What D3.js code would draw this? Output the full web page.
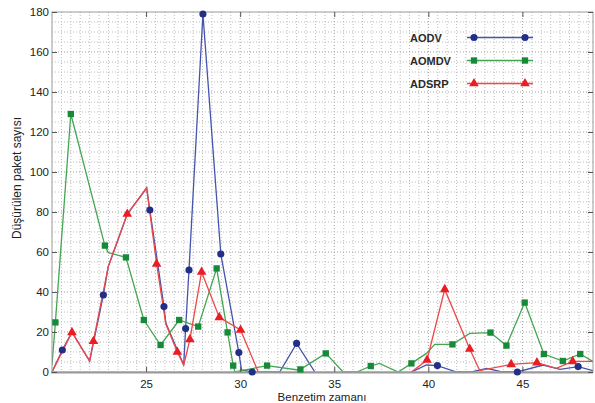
<!DOCTYPE html>
<html>
<head>
<meta charset="utf-8">
<script src="https://cdn.jsdelivr.net/npm/d3@7/dist/d3.min.js"></script>
<style>
  body { margin: 0; background: #fff; }
  text { font-family: "Liberation Sans", Arial, sans-serif; }
</style>
</head>
<body>
<script>
// [time, dropped packets, marker shown]; null value = gap in the line
var aodvData = [[20,0,0],[20.55,11,1],[21.06,20,0],[22.0,5.5,0],[22.73,38.5,1],[22.99,52.7,0],
    [24.0,79,0],[25.03,92,0],[25.2,81,1],[25.95,32.7,1],[26.05,24.5,0],[27.0,3.5,0],
    [27.1,21.7,1],[27.28,51,1],[28.02,179,1],[28.97,59,1],[29.93,9.7,1],[30.07,1,0],
    [30.64,0,1],[32.1,0,0],[33.0,14.3,1],[33.97,0,0],[36,null,0],[39.1,0,0],[39.9,3.5,0],
    [40.48,3.2,1],[41.5,0,0],[42.3,0,0],[43.1,1.8,0],[43.8,0.3,0],[44.73,0,1],[46.1,3.5,0],
    [47.0,1.3,0],[47.96,2.7,1],[48.75,0.7,0]];
var aomdvData = [[20,3.5,0],[20.18,24.8,1],[21.0,129,1],[22.81,63.2,1],[22.99,59.7,0],
    [23.93,57.3,1],[24.88,26,1],[25.77,13.5,1],[26.76,26,1],[27.77,22.7,1],[28.75,51.8,1],
    [29.33,19.8,1],[29.63,3.2,1],[29.72,0,0],[31.43,3.2,1],[33.08,1,0],[33.2,1.3,1],
    [34.55,9.3,1],[35.47,0,0],[36.2,0,0],[36.94,3,1],[37.4,4.3,0],[38.4,0,0],[39.1,4.3,1],
    [39.9,9.3,0],[40.34,13.8,0],[41.28,13.8,1],[42.2,19.3,0],[43.3,19.7,1],[44.15,13.2,1],
    [45.12,34.7,1],[46.14,9,1],[47.15,5.5,1],[48.07,9,1],[48.75,5.2,0]];
var adsrpData = [[20,0,0],[21.06,19.8,1],[22.0,5.5,0],[22.2,15.4,1],[22.99,52.7,0],[24.0,79,1],
    [25.03,92,0],[25.56,54,1],[26.05,24,0],[26.66,10,1],[27.0,3.5,0],[27.33,16.3,1],
    [27.95,50,1],[28.89,27.3,1],[30.02,21,1],[30.96,0,0],[35,null,0],[39.1,0,0],[39.93,6,1],
    [40.87,41.3,1],[42.2,11.5,1],[42.73,0.7,0],[44.4,3.8,1],[45.77,4.7,1],[46.8,1.8,0],
    [47.67,5.3,1],[48.75,5.3,0]];

var seriesNames = ["AODV", "AOMDV", "ADSRP"];
var xTicks = [25, 30, 35, 40, 45];
var yTicks = [0, 20, 40, 60, 80, 100, 120, 140, 160, 180];

drawChart();

function drawChart(){
    var w = 595, h = 403;
    var pl = 52, pr = 593, pt = 12, pb = 372;

    var svg = d3.select("body").append("svg")
        .attr("width", w)
        .attr("height", h);

    var x = d3.scaleLinear().domain([20, 48.75]).range([pl, pr]);
    var y = d3.scaleLinear().domain([0, 180]).range([pb, pt]);

    //dotted grid
    svg.append("g").selectAll("line")
        .data(d3.range(20.5, 48.75, 0.5))
        .enter().append("line")
        .attr("x1", function(d){ return x(d); })
        .attr("x2", function(d){ return x(d); })
        .attr("y1", pt).attr("y2", pb)
        .attr("stroke", function(d){ return d % 5 === 0 ? "#a0a0a0" : "#bdbdbd"; })
        .attr("stroke-dasharray", "1,2");
    svg.append("g").selectAll("line")
        .data(d3.range(5, 180, 5))
        .enter().append("line")
        .attr("x1", pl).attr("x2", pr)
        .attr("y1", function(d){ return y(d); })
        .attr("y2", function(d){ return y(d); })
        .attr("stroke", function(d){ return d % 20 === 0 ? "#a0a0a0" : "#bdbdbd"; })
        .attr("stroke-dasharray", "1,2");

    var series = [
        {name: seriesNames[0], data: aodvData, line: "#4453ad", mark: "#222f86", sym: d3.symbolCircle, size: 40},
        {name: seriesNames[1], data: aomdvData, line: "#43a652", mark: "#168a38", sym: d3.symbolSquare, size: 40},
        {name: seriesNames[2], data: adsrpData, line: "#ef4747", mark: "#ea1c24", sym: d3.symbolTriangle, size: 40}
    ];

    svg.append("clipPath").attr("id", "plot")
        .append("rect").attr("x", pl).attr("y", pt - 6)
        .attr("width", pr - pl).attr("height", pb - pt + 6);

    var line = d3.line()
        .defined(function(d){ return d[1] !== null; })
        .x(function(d){ return x(d[0]); })
        .y(function(d){ return y(d[1]); });

    var lines = svg.append("g").attr("clip-path", "url(#plot)");
    series.forEach(function(s){
        lines.append("path")
            .datum(s.data)
            .attr("d", line)
            .attr("fill", "none")
            .attr("stroke", s.line)
            .attr("stroke-width", 1.3);
    });

    //axes frame
    var axisColor = "#9a9a9a";
    svg.append("rect")
        .attr("x", pl).attr("y", pt)
        .attr("width", pr - pl).attr("height", pb - pt)
        .attr("fill", "none").attr("stroke", axisColor).attr("stroke-width", 1);
    svg.append("line")
        .attr("x1", pl - 1).attr("x2", pr)
        .attr("y1", pb + 0.5).attr("y2", pb + 0.5)
        .attr("stroke", axisColor).attr("stroke-width", 2);

    var xAxis = svg.append("g").attr("transform", "translate(0," + pb + ")")
        .call(d3.axisBottom(x).tickValues(xTicks).tickSize(-5).tickPadding(8));
    var xTop = svg.append("g").attr("transform", "translate(0," + pt + ")")
        .call(d3.axisTop(x).tickValues(xTicks).tickSize(-5).tickFormat(""));
    var yAxis = svg.append("g").attr("transform", "translate(" + pl + ",0)")
        .call(d3.axisLeft(y).tickValues(yTicks).tickSize(-5).tickPadding(3));
    var yRight = svg.append("g").attr("transform", "translate(" + pr + ",0)")
        .call(d3.axisRight(y).tickValues(yTicks).tickSize(-5).tickFormat(""));
    [xAxis, xTop, yAxis, yRight].forEach(function(a){
        a.select(".domain").remove();
        a.selectAll(".tick line").attr("stroke", "#555");
        a.selectAll(".tick text").attr("fill", "#222").style("font-size", "11.5px")
            .style("font-family", "'Liberation Sans', Arial, sans-serif");
    });

    //markers
    series.forEach(function(s){
        svg.append("g").selectAll("path")
            .data(s.data.filter(function(d){ return d[2] === 1; }))
            .enter().append("path")
            .attr("transform", function(d){ return "translate(" + x(d[0]) + "," + y(d[1]) + ")"; })
            .attr("d", d3.symbol().type(s.sym).size(s.size))
            .attr("fill", s.mark);
    });

    //legend
    var legend = svg.append("g");
    series.forEach(function(s, i){
        var ly = 37.5 + i * 23;
        legend.append("text")
            .attr("x", 410).attr("y", ly + 4)
            .attr("font-size", "11px").attr("font-weight", "bold")
            .attr("fill", "#2a2a2a")
            .text(s.name);
        legend.append("line")
            .attr("x1", 467).attr("x2", 533)
            .attr("y1", ly).attr("y2", ly)
            .attr("stroke", s.line).attr("stroke-width", 1.5);
        [474, 525].forEach(function(mx){
            legend.append("path")
                .attr("transform", "translate(" + mx + "," + ly + ")")
                .attr("d", d3.symbol().type(s.sym).size(s.size))
                .attr("fill", s.mark);
        });
    });

    //axis titles
    svg.append("text")
        .attr("x", 322).attr("y", 400.5)
        .attr("text-anchor", "middle")
        .attr("font-size", "11.5px").attr("fill", "#222")
        .text("Benzetim zamanı");
    svg.append("text")
        .attr("transform", "translate(21,178) rotate(-90)")
        .attr("text-anchor", "middle")
        .attr("font-size", "12px").attr("fill", "#222")
        .text("Düşürülen paket sayısı");
}
</script>
</body>
</html>
